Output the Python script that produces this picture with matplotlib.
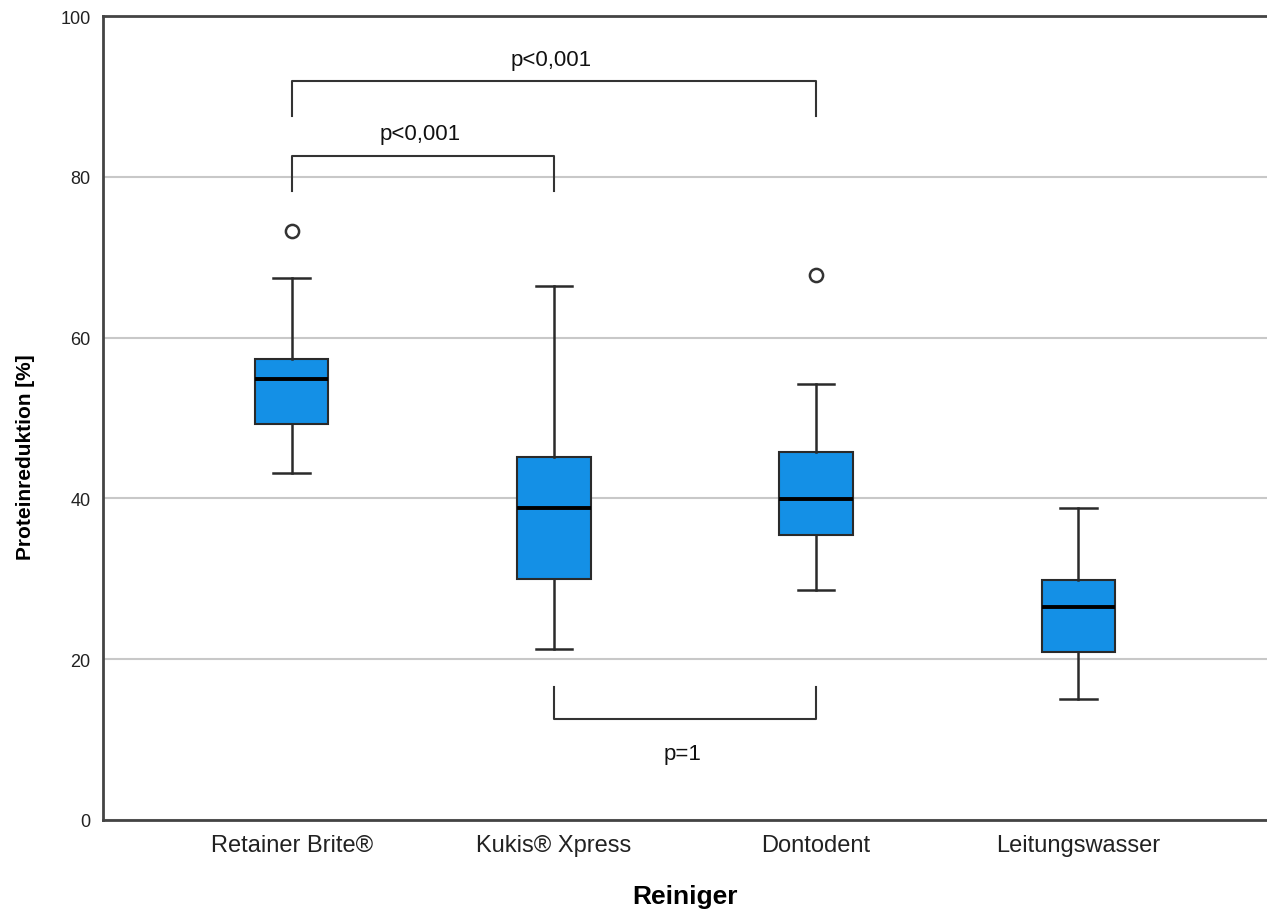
import matplotlib
matplotlib.use("Agg")
import matplotlib.pyplot as plt

categories = ["Retainer Brite®", "Kukis® Xpress", "Dontodent", "Leitungswasser"]
whis_low = [43.2, 21.3, 28.6, 15.0]
q1 = [49.3, 30.0, 35.5, 20.9]
median = [54.9, 38.8, 39.9, 26.5]
q3 = [57.3, 45.2, 45.8, 29.9]
whis_high = [67.4, 66.4, 54.2, 38.8]
outliers = [[73.2], [], [67.8], []]

brackets = [  # (x1, x2, y, leg_end, label, label_y)
    (0, 1, 82.6, 78.2, "p<0,001", 85.4),
    (0, 2, 91.9, 87.6, "p<0,001", 94.6),
    (1, 2, 12.6, 16.5, "p=1", 8.3),
]

FONT = "Liberation Sans"
W, H = 1267, 912
fig = plt.figure(figsize=(W / 100, H / 100), dpi=100)
ax = fig.add_axes([103 / W, (H - 821) / H, 1 - 103 / W, (821 - 17) / H])

stats = []
for i, c in enumerate(categories):
    stats.append(dict(label=c, whislo=whis_low[i], q1=q1[i], med=median[i],
                      q3=q3[i], whishi=whis_high[i], fliers=outliers[i]))

ax.bxp(stats, positions=range(len(categories)), widths=0.28, patch_artist=True,
       showfliers=True,
       boxprops=dict(facecolor="#1490E6", edgecolor="#2a2a2a", linewidth=1.5),
       medianprops=dict(color="#000000", linewidth=2.8),
       whiskerprops=dict(color="#2a2a2a", linewidth=1.8),
       capprops=dict(color="#2a2a2a", linewidth=1.8),
       capwidths=0.14,
       flierprops=dict(marker="o", markersize=9.5, markerfacecolor="white",
                       markeredgecolor="#333333", markeredgewidth=1.8))

ax.set_xlim(-0.72, 3.72)
ax.set_ylim(0, 100)
ax.set_yticks([0, 20, 40, 60, 80, 100])
ax.yaxis.grid(True, color="#c8c8c8", linewidth=1.5)
ax.set_axisbelow(True)
ax.tick_params(axis="both", length=0)
ax.tick_params(axis="y", labelsize=13, pad=9, colors="#222222")
ax.tick_params(axis="x", pad=10)
ax.set_xticks(range(len(categories)))
ax.set_xticklabels(categories, fontsize=17, fontfamily=FONT, color="#222222")
for lab in ax.get_yticklabels():
    lab.set_fontfamily(FONT)

for s in ["top", "bottom", "left"]:
    ax.spines[s].set_color("#444444")
    ax.spines[s].set_linewidth(2)
ax.spines["right"].set_visible(False)

for x1, x2, y, leg, lab, ly in brackets:
    ax.plot([x1, x1, x2, x2], [leg, y, y, leg],
            color="#333333", linewidth=1.5)
    ax.text((x1 + x2) / 2 - 0.01, ly, lab, ha="center", va="center",
            fontsize=16, fontfamily=FONT, color="#111111")

ax.set_ylabel("Proteinreduktion [%]", fontsize=15, fontweight="bold",
              fontfamily=FONT)
ax.yaxis.set_label_coords((25 - 103) / (W - 103), 0.453)
ax.set_xlabel("Reiniger", fontsize=19, fontweight="bold", fontfamily=FONT)
ax.xaxis.set_label_coords(0.5, -(897 - 821) / (821 - 17))
ax.xaxis.label.set_va("center")
ax.yaxis.label.set_va("center")

fig.savefig("out.png", dpi=100)
